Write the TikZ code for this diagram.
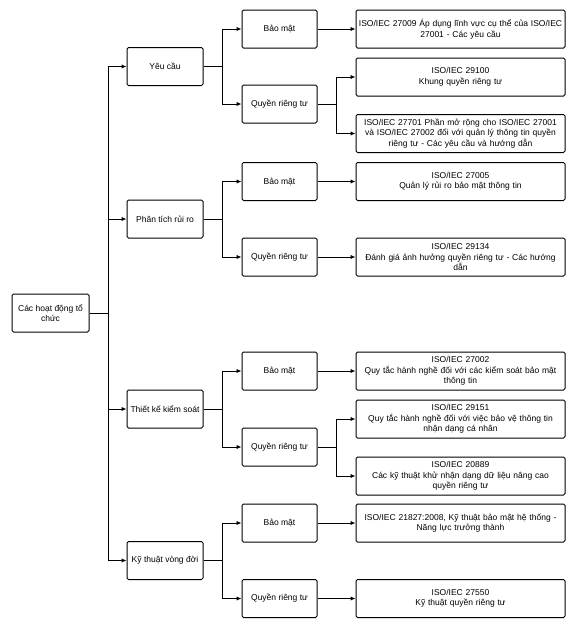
\documentclass[tikz,border=0pt]{standalone}
\usepackage{fontspec}
\setmainfont{Liberation Sans}
\usepackage{tikz}
\usetikzlibrary{arrows.meta}

\begin{document}
\begin{tikzpicture}[x=1pt,y=-1pt,
		box/.style={draw, line width=1pt, rounded corners=1.5pt, minimum height=38pt, inner sep=1pt, align=center, font=\fontsize{8.5}{10.5}\selectfont},
		topbox/.style={box, minimum width=77pt},
		midbox/.style={box, minimum width=76pt},
		subbox/.style={box, minimum width=75pt},
		stdbox/.style={box, minimum width=209pt, text width=207pt},
		arr/.style={line width=1pt, -{Latex[length=5pt,width=4.5pt]}}]
		\useasboundingbox (0,0) rectangle (575,627);
		% root
		\node[topbox] (org) at (50.5,313) {Các hoạt động tổ\\chức};
		% activities
		\node[midbox] (req) at (165,66.5) {Yêu cầu};
		\node[midbox] (risk) at (165,219) {Phân tích rủi ro};
		\node[midbox] (ctrl) at (165,409) {Thiết kế kiểm soát};
		\node[midbox] (life) at (165,560.5) {Kỹ thuật vòng đời};
		% security / privacy
		\node[subbox] (reqsec) at (279.5,29) {Bảo mật};
		\node[subbox] (reqpriv) at (279.5,104) {Quyền riêng tư};
		\node[subbox] (risksec) at (279.5,181.5) {Bảo mật};
		\node[subbox] (riskpriv) at (279.5,257) {Quyền riêng tư};
		\node[subbox] (ctrlsec) at (279.5,371) {Bảo mật};
		\node[subbox] (ctrlpriv) at (279.5,447) {Quyền riêng tư};
		\node[subbox] (lifesec) at (279.5,523) {Bảo mật};
		\node[subbox] (lifepriv) at (279.5,598.5) {Quyền riêng tư};
		% standards
		\node[stdbox] (iso27009) at (460.5,29) {ISO/IEC 27009 Áp dụng lĩnh vực cụ thể của ISO/IEC\\27001 - Các yêu cầu};
		\node[stdbox] (iso29100) at (460.5,77) {ISO/IEC 29100\\Khung quyền riêng tư};
		\node[stdbox] (iso27701) at (460.5,133.5) {ISO/IEC 27701 Phần mở rộng cho ISO/IEC 27001\\và ISO/IEC 27002 đối với quản lý thông tin quyền\\riêng tư - Các yêu cầu và hướng dẫn};
		\node[stdbox] (iso27005) at (460.5,181.5) {ISO/IEC 27005\\Quản lý rủi ro bảo mật thông tin};
		\node[stdbox] (iso29134) at (460.5,257) {ISO/IEC 29134\\Đánh giá ảnh hưởng quyền riêng tư - Các hướng\\dẫn};
		\node[stdbox] (iso27002) at (460.5,371) {ISO/IEC 27002\\Quy tắc hành nghề đối với các kiểm soát bảo mật\\thông tin};
		\node[stdbox] (iso29151) at (460.5,419) {ISO/IEC 29151\\Quy tắc hành nghề đối với việc bảo vệ thông tin\\nhận dạng cá nhân};
		\node[stdbox] (iso20889) at (460.5,476) {ISO/IEC 20889\\Các kỹ thuật khử nhận dạng dữ liệu nâng cao\\quyền riêng tư};
		\node[stdbox] (iso21827) at (460.5,523) {ISO/IEC 21827:2008, Kỹ thuật bảo mật hệ thống -\\Năng lực trưởng thành};
		\node[stdbox] (iso27550) at (460.5,598.5) {ISO/IEC 27550\\Kỹ thuật quyền riêng tư};
		% connectors
		\foreach \a in {req,risk,ctrl,life}
			\draw[arr] (org.east) -- ++(19,0) |- (\a.west);
		\foreach \a in {req,risk,ctrl,life} {
			\draw[arr] (\a.east) -- ++(19,0) |- (\a sec.west);
			\draw[arr] (\a.east) -- ++(19,0) |- (\a priv.west);
		}
		\draw[arr] (reqsec) -- (iso27009);
		\draw[arr] (reqpriv.east) -- ++(19,0) |- (iso29100.west);
		\draw[arr] (reqpriv.east) -- ++(19,0) |- (iso27701.west);
		\draw[arr] (risksec) -- (iso27005);
		\draw[arr] (riskpriv) -- (iso29134);
		\draw[arr] (ctrlsec) -- (iso27002);
		\draw[arr] (ctrlpriv.east) -- ++(19,0) |- (iso29151.west);
		\draw[arr] (ctrlpriv.east) -- ++(19,0) |- (iso20889.west);
		\draw[arr] (lifesec) -- (iso21827);
		\draw[arr] (lifepriv) -- (iso27550);
	\end{tikzpicture}
\end{document}
